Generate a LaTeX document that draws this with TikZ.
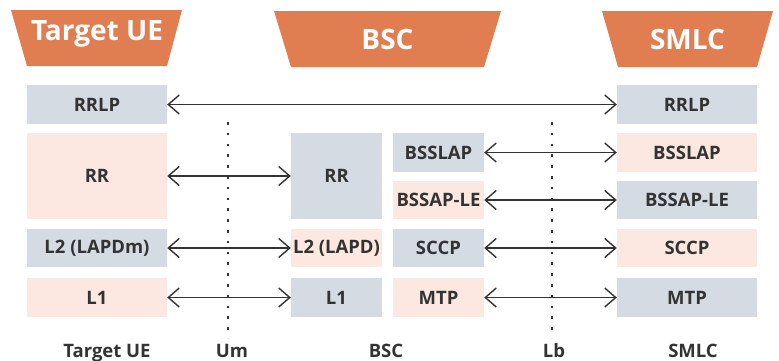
\documentclass[tikz,border=0pt]{standalone}
\usepackage{fontspec}
\setmainfont{Open Sans}
\usetikzlibrary{arrows.meta}
\definecolor{hdrorange}{HTML}{E07E52}
\definecolor{boxgray}{HTML}{D4DBE3}
\definecolor{boxpink}{HTML}{FCE8E1}
\definecolor{txtdark}{HTML}{333333}
\tikzset{
  layer/.style={inner sep=0pt, text=txtdark, font=\fontsize{18.5}{20}\selectfont\bfseries},
  graybox/.style={layer, fill=boxgray},
  pinkbox/.style={layer, fill=boxpink},
  wide/.style={minimum width=140pt},
  narrow/.style={minimum width=91pt},
  hdrtext/.style={text=white, font=\fontsize{28}{30}\selectfont\bfseries, inner sep=0pt},
  hdrfill/.style={fill=hdrorange},
  barb/.tip={Straight Barb[length=11pt, width=19pt, line width=1.4pt]},
  peer/.style={draw=txtdark, line width=1.4pt, barb-barb},
  iface/.style={draw=txtdark, line width=2.6pt, dash pattern=on 2.6pt off 8.2pt},
  foot/.style={text=txtdark, font=\fontsize{18.5}{20}\selectfont\bfseries, inner sep=0pt, anchor=base}
}
\begin{document}
\begin{tikzpicture}[x=1pt, y=-1pt]
\useasboundingbox (0,0) rectangle (779,360);

% column headers
\fill[hdrfill] (11,10) -- (182,10) -- (167,66) -- (27,66) -- cycle;
\node[hdrtext] (hue) at (97,34) {Target UE};
\fill[hdrfill] (274,11) -- (501,11) -- (484,67) -- (291,67) -- cycle;
\node[hdrtext] (hbsc) at (387.5,39) {BSC};
\fill[hdrfill] (602,11) -- (773,11) -- (757,67) -- (618,67) -- cycle;
\node[hdrtext] (hsmlc) at (687.5,39) {SMLC};

% interface lines
\coordinate (umtop) at (228,122);
\coordinate (umbot) at (228,338);
\coordinate (lbtop) at (552,122);
\coordinate (lbbot) at (552,338);
\draw[iface] (umtop) -- (umbot);
\draw[iface] (lbtop) -- (lbbot);

% Target UE stack
\node[graybox, wide, minimum height=39pt] (uerrlp) at (97,104.5) {RRLP};
\node[pinkbox, wide, minimum height=86pt] (uerr) at (97,176) {RR};
\node[graybox, wide, minimum height=38pt] (uel2) at (97,248) {L2 (LAPDm)};
\node[pinkbox, wide, minimum height=39pt] (uel1) at (97,297.5) {L1};

% BSC stacks
\node[graybox, narrow, minimum height=86pt] (bscrr) at (336.5,176) {RR};
\node[pinkbox, narrow, minimum height=38pt] (bscl2) at (336.5,248) {L2 (LAPD)};
\node[graybox, narrow, minimum height=39pt] (bscl1) at (336.5,297.5) {L1};
\node[graybox, narrow, minimum height=39pt] (bscbsslap) at (438.5,152.5) {BSSLAP};
\node[pinkbox, narrow, minimum height=38pt] (bscbssap) at (438.5,200) {BSSAP-LE};
\node[graybox, narrow, minimum height=38pt] (bscsccp) at (438.5,248) {SCCP};
\node[pinkbox, narrow, minimum height=39pt] (bscmtp) at (438.5,297.5) {MTP};

% SMLC stack
\node[graybox, wide, minimum height=39pt] (smrrlp) at (687,104.5) {RRLP};
\node[pinkbox, wide, minimum height=39pt] (smbsslap) at (687,152.5) {BSSLAP};
\node[graybox, wide, minimum height=38pt] (smbssap) at (687,200) {BSSAP-LE};
\node[pinkbox, wide, minimum height=38pt] (smsccp) at (687,248) {SCCP};
\node[graybox, wide, minimum height=39pt] (smmtp) at (687,297.5) {MTP};

% peer-to-peer links
\draw[peer] (uerrlp) -- (smrrlp);
\draw[peer] (uerr) -- (bscrr);
\draw[peer] (uel2) -- (bscl2);
\draw[peer] (uel1) -- (bscl1);
\draw[peer] (bscbsslap) -- (smbsslap);
\draw[peer] (bscbssap) -- (smbssap);
\draw[peer] (bscsccp) -- (smsccp);
\draw[peer] (bscmtp) -- (smmtp);

% footer labels
\node[foot] (fue) at (107,357) {Target UE};
\node[foot] (fum) at (232,357) {Um};
\node[foot] (fbsc) at (386,357) {BSC};
\node[foot] (flb) at (554,357) {Lb};
\node[foot] (fsmlc) at (693,357) {SMLC};
\end{tikzpicture}
\end{document}
